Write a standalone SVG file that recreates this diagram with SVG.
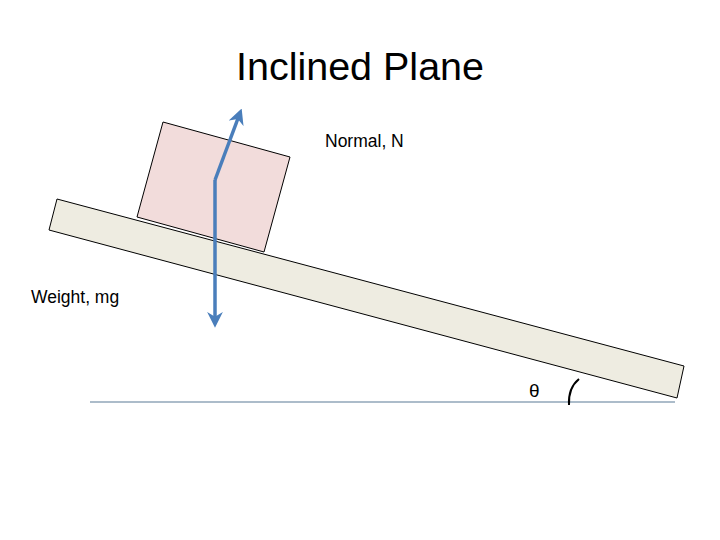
<svg xmlns="http://www.w3.org/2000/svg" width="720" height="540" viewBox="0 0 720 540">
<style>
.t{font-family:"Liberation Sans",Arial,sans-serif;fill:#000}
.f{stroke:#4a7ebb;stroke-width:3.5;fill:none;stroke-linejoin:round}
</style>
<defs>
<marker id="ah" viewBox="0 0 10 10" refX="7" refY="5" markerWidth="4.5" markerHeight="4.5" orient="auto"><path d="M0,0 L10,5 L0,10 L3,5 Z" fill="#4a7ebb"/></marker>
</defs>
<rect width="720" height="540" fill="#fff"/>
<text class="t" x="236" y="80" font-size="38" textLength="248" lengthAdjust="spacingAndGlyphs" font-family="Calibri,'Open Sans',sans-serif">Inclined Plane</text>
<g id="ground"><line x1="90" y1="402" x2="675" y2="402" stroke="#5a7a95" stroke-width="1.2"/></g>
<g id="plane"><polygon points="57,199 49,230 677,398 684,366" fill="#eeece1" stroke="#000" stroke-width="1"/></g>
<g id="block"><polygon points="163,122 290,157 264,252 137,217" fill="#f2dcdb" stroke="#000" stroke-width="1"/></g>
<g id="connectors">
<polyline class="f" points="215,180 240,113" marker-end="url(#ah)"/>
<polyline class="f" points="215,180 215,323" marker-end="url(#ah)"/>
</g>
<g id="labels">
<text class="t" x="325" y="147" font-size="17.5">Normal, N</text>
<text class="t" x="31" y="303" font-size="17.5">Weight, mg</text>
<text class="t" x="529" y="397" font-size="19">θ</text>
<path d="M569,405 Q568,388 579,379" fill="none" stroke="#000" stroke-width="2"/>
</g>
</svg>
